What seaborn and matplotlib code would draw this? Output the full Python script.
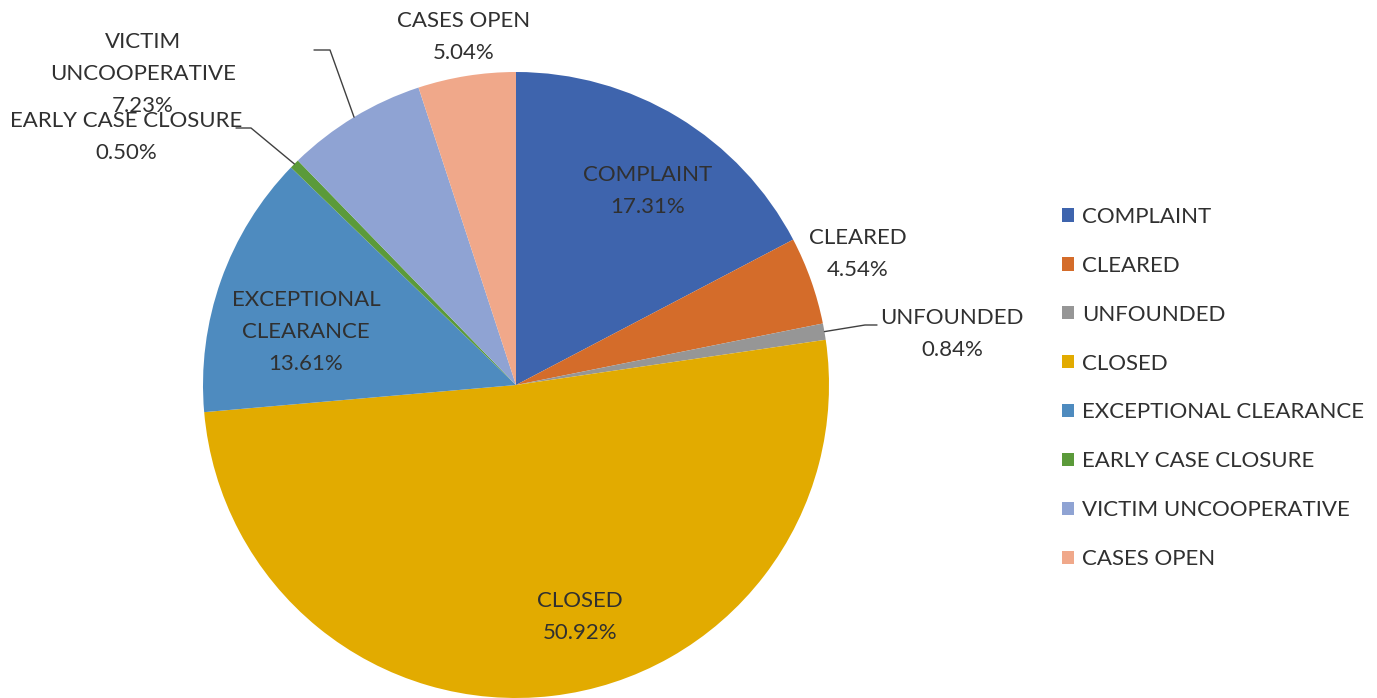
import numpy as np
import matplotlib
matplotlib.use("Agg")
import matplotlib.pyplot as plt
import seaborn as sns

# DATA
categories = ["COMPLAINT", "CLEARED", "UNFOUNDED", "CLOSED", "EXCEPTIONAL CLEARANCE",
              "EARLY CASE CLOSURE", "VICTIM UNCOOPERATIVE", "CASES OPEN"]
shares = [17.31, 4.54, 0.84, 50.92, 13.61, 0.50, 7.23, 5.04]
pct_labels = ["17.31%", "4.54%", "0.84%", "50.92%", "13.61%", "0.50%", "7.23%", "5.04%"]
slice_labels = ["COMPLAINT", "CLEARED", "UNFOUNDED", "CLOSED", "EXCEPTIONAL\nCLEARANCE",
                "EARLY CASE CLOSURE", "VICTIM\nUNCOOPERATIVE", "CASES OPEN"]

colors = ["#3E64AD", "#D46C2A", "#969696", "#E2AB00", "#4E8BBF",
          "#5B9A3A", "#8FA3D3", "#F0A88A"]

sns.set_style("white")
plt.rcParams['font.family'] = ['Lato', 'DejaVu Sans']
TXT = '#303030'

W, H = 1377, 698
fig = plt.figure(figsize=(W / 100, H / 100), dpi=100)
ax = fig.add_axes([0, 0, 1, 1])

cx, cy, r = 516, H - 385, 313
wedges, _ = ax.pie(shares, colors=colors, startangle=90, counterclock=False,
                   center=(cx, cy), radius=r, frame=True,
                   wedgeprops={'linewidth': 0})
ax.set_xlim(0, W)
ax.set_ylim(0, H)
ax.set_aspect('equal')
ax.axis('off')

# label positions (image pixel coords, y down) and optional leader elbow
label_pos = {
    0: (648, 191),
    1: (858, 254),
    2: (952, 334),
    3: (580, 617),
    4: (306, 332),
    5: (126, 137),
    6: (143, 74),
    7: (464, 37),
}
leaders = {2: (865, 325, 877), 5: (251, 128, 236), 6: (330, 50, 314)}

for i, w in enumerate(wedges):
    x, y = label_pos[i]
    ax.text(x, H - y, f"{slice_labels[i]}\n{pct_labels[i]}", ha='center', va='center',
            fontsize=16, color=TXT, linespacing=1.72)
    if i in leaders:
        ang = np.deg2rad((w.theta1 + w.theta2) / 2)
        ex, ey = cx + r * np.cos(ang), cy + r * np.sin(ang)
        mx, my, tx = leaders[i]
        ax.plot([ex, mx, tx], [ey, H - my, H - my], color='#404040', lw=1)

ax.legend(wedges, categories, loc='center left', bbox_to_anchor=(1062 / W, 1 - 388 / H),
          bbox_transform=fig.transFigure, frameon=False, fontsize=16,
          handlelength=0.54, handleheight=0.54, handletextpad=0.36,
          labelspacing=1.3, labelcolor=TXT, borderaxespad=0, borderpad=0)

fig.savefig("out.png", dpi=100, facecolor='white')
